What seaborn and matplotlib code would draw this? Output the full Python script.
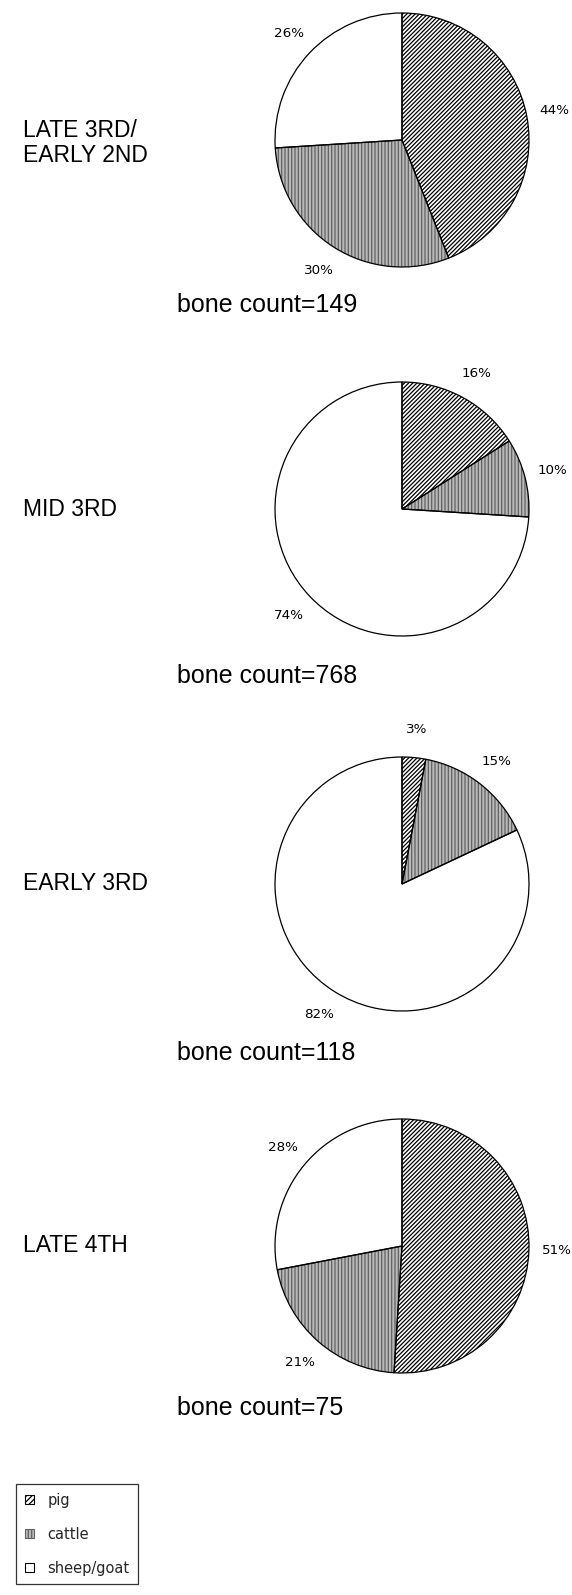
import matplotlib
matplotlib.use('Agg')
import matplotlib.pyplot as plt
import matplotlib.patches as mpatches
import seaborn as sns

# ---- data ----
species = ['pig', 'cattle', 'sheep/goat']
periods = ['LATE 3RD/\nEARLY 2ND', 'MID 3RD', 'EARLY 3RD', 'LATE 4TH']
bone_counts = [149, 768, 118, 75]
pig = [44, 16, 3, 51]
cattle = [30, 10, 15, 21]
sheep_goat = [26, 74, 82, 28]

# ---- style ----
sns.set_theme(style='white')
plt.rcParams['font.family'] = ['Liberation Sans', 'DejaVu Sans']
plt.rcParams['hatch.linewidth'] = 0.9

W, H = 572, 1595
fig = plt.figure(figsize=(W / 100, H / 100), dpi=100)
fig.patch.set_facecolor('white')

# layout (pixels)
cx = 402
r = 127
centers_y = [140, 509, 884, 1246]
label_y = [143, 509, 884, 1246]
count_baseline = [312, 683, 1060, 1415]

face = ['white', '#b9b9b9', 'white']
hatches = ['////////', '|||||', '']
hatch_edges = ['black', '#626262', 'black']

pad = 1.03
for i in range(4):
    ax = fig.add_axes([(cx - r * pad) / W, 1 - (centers_y[i] + r * pad) / H,
                       2 * r * pad / W, 2 * r * pad / H])
    vals = [pig[i], cattle[i], sheep_goat[i]]
    wedges, texts, autotexts = ax.pie(
        vals, startangle=90, counterclock=False, radius=1,
        autopct=lambda p: f'{p:.0f}%', pctdistance=1.22,
        textprops=dict(fontsize=9.7, family='DejaVu Sans', color='black'),
        wedgeprops=dict(linewidth=0))
    for w, f, h, e in zip(wedges, face, hatches, hatch_edges):
        w.set_facecolor(f)
        w.set_hatch(h)
        w.set_edgecolor(e)
        w.set_linewidth(0)
    ax.pie(vals, startangle=90, counterclock=False, radius=1,
           wedgeprops=dict(fill=False, edgecolor='black', linewidth=0.9))
    ax.set_xlim(-pad, pad)
    ax.set_ylim(-pad, pad)
    ax.set_axis_off()

    fig.text(23 / W, 1 - label_y[i] / H, periods[i], ha='left', va='center',
             fontsize=16.5, linespacing=1.15, color='black')
    fig.text(177 / W, 1 - count_baseline[i] / H, f'bone count={bone_counts[i]}',
             ha='left', va='baseline', fontsize=18, color='black')

handles = [mpatches.Patch(facecolor=f, hatch=h, edgecolor=e, linewidth=0.8)
           for f, h, e in zip(face, ['//////', '|||||', ''], hatch_edges)]
handles[2].set_edgecolor('black')
leg = fig.legend(handles, species, loc='upper left',
                 bbox_to_anchor=(16 / W, 1 - 1484 / H),
                 frameon=True, fancybox=False, edgecolor='black',
                 prop=dict(family='DejaVu Sans', size=10.5),
                 handlelength=0.6, handleheight=0.6, handletextpad=0.95,
                 labelspacing=1.3, borderpad=0.6, borderaxespad=0)
leg.get_frame().set_linewidth(0.9)

fig.savefig('out.png', dpi=100, facecolor='white')
